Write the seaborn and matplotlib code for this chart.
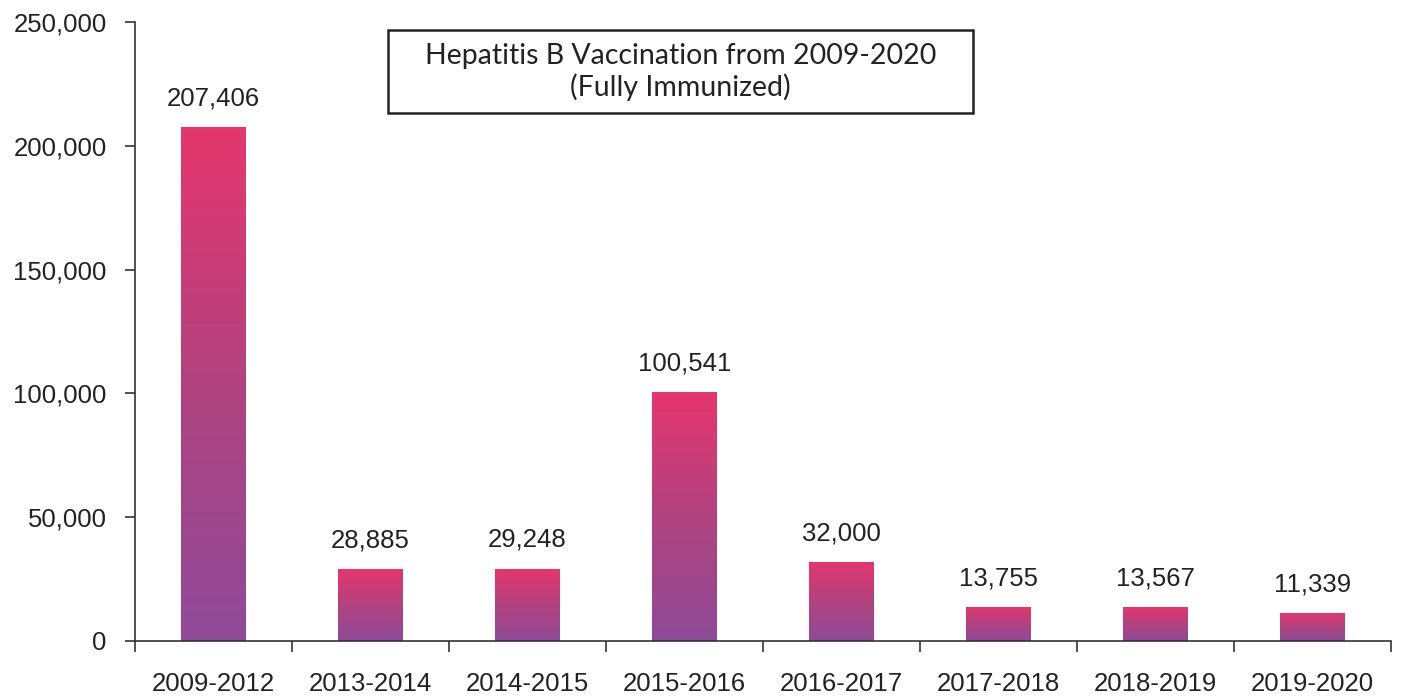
import numpy as np
import pandas as pd
import matplotlib
matplotlib.use("Agg")
import matplotlib.pyplot as plt
import seaborn as sns
from matplotlib.colors import LinearSegmentedColormap
from matplotlib.patches import Rectangle

periods = ["2009-2012", "2013-2014", "2014-2015", "2015-2016",
           "2016-2017", "2017-2018", "2018-2019", "2019-2020"]
vaccinated = [207406, 28885, 29248, 100541, 32000, 13755, 13567, 11339]
yticks = [0, 50000, 100000, 150000, 200000, 250000]

sns.set_theme(style="white")
plt.rcParams['font.family'] = ['Liberation Sans', 'DejaVu Sans']

df = pd.DataFrame({"period": periods, "value": vaccinated})

fig = plt.figure(figsize=(14.02, 6.99), dpi=100)
ax = fig.add_axes([0.0963, 0.083, 0.8957, 0.8855])

sns.barplot(data=df, x="period", y="value", ax=ax, width=0.41,
            color="#c03f7f", saturation=1, edgecolor="none")

cmap = LinearSegmentedColormap.from_list("g", ["#8f4a98", "#b1437f", "#e6366e"])
grad = np.linspace(0, 1, 256).reshape(-1, 1)
for p in ax.patches:
    x0, w, h = p.get_x(), p.get_width(), p.get_height()
    im = ax.imshow(grad, cmap=cmap, origin="lower", aspect="auto",
                   extent=(x0, x0 + w, 0, h), zorder=p.get_zorder() + 0.1,
                   interpolation="bilinear")
    im.set_clip_path(p)
    ax.annotate(f"{int(h):,}", (x0 + w / 2, h), xytext=(0, 12),
                textcoords="offset points", ha="center", va="bottom",
                fontsize=18.5, color="#222222")

ax.set_xlim(-0.5, len(periods) - 0.5)
ax.set_ylim(0, 250000)
ax.set_yticks(yticks)
ax.set_yticklabels([f"{v:,}" for v in yticks], fontsize=18.5, color="#222222")
ax.set_xticks(range(len(periods)))
ax.set_xticklabels(periods, fontsize=18.5, color="#222222")
ax.set_xticks(np.arange(-0.5, len(periods), 1.0), minor=True)
ax.tick_params(axis="x", which="major", length=0, pad=22)
ax.tick_params(axis="x", which="minor", length=8, width=1.2, color="#333333",
               direction="out", bottom=True)
ax.tick_params(axis="y", which="major", length=7.5, width=1.2, color="#333333",
               direction="out", left=True, pad=13)
ax.set_xlabel("")
ax.set_ylabel("")
for s in ["top", "right"]:
    ax.spines[s].set_visible(False)
for s in ["left", "bottom"]:
    ax.spines[s].set_color("#333333")
    ax.spines[s].set_linewidth(1.2)

fig.patches.append(Rectangle((0.2767, 0.838), 0.4173, 0.119, transform=fig.transFigure,
                             fill=True, facecolor="white", edgecolor="#222222",
                             linewidth=1.8, zorder=5))
fig.text(0.4853, 0.8975, "Hepatitis B Vaccination from 2009-2020\n(Fully Immunized)",
         ha="center", va="center", fontsize=20.5, family=["Lato", "DejaVu Sans"],
         color="#222222", linespacing=1.2, zorder=6)

fig.savefig("out.png", dpi=100)
